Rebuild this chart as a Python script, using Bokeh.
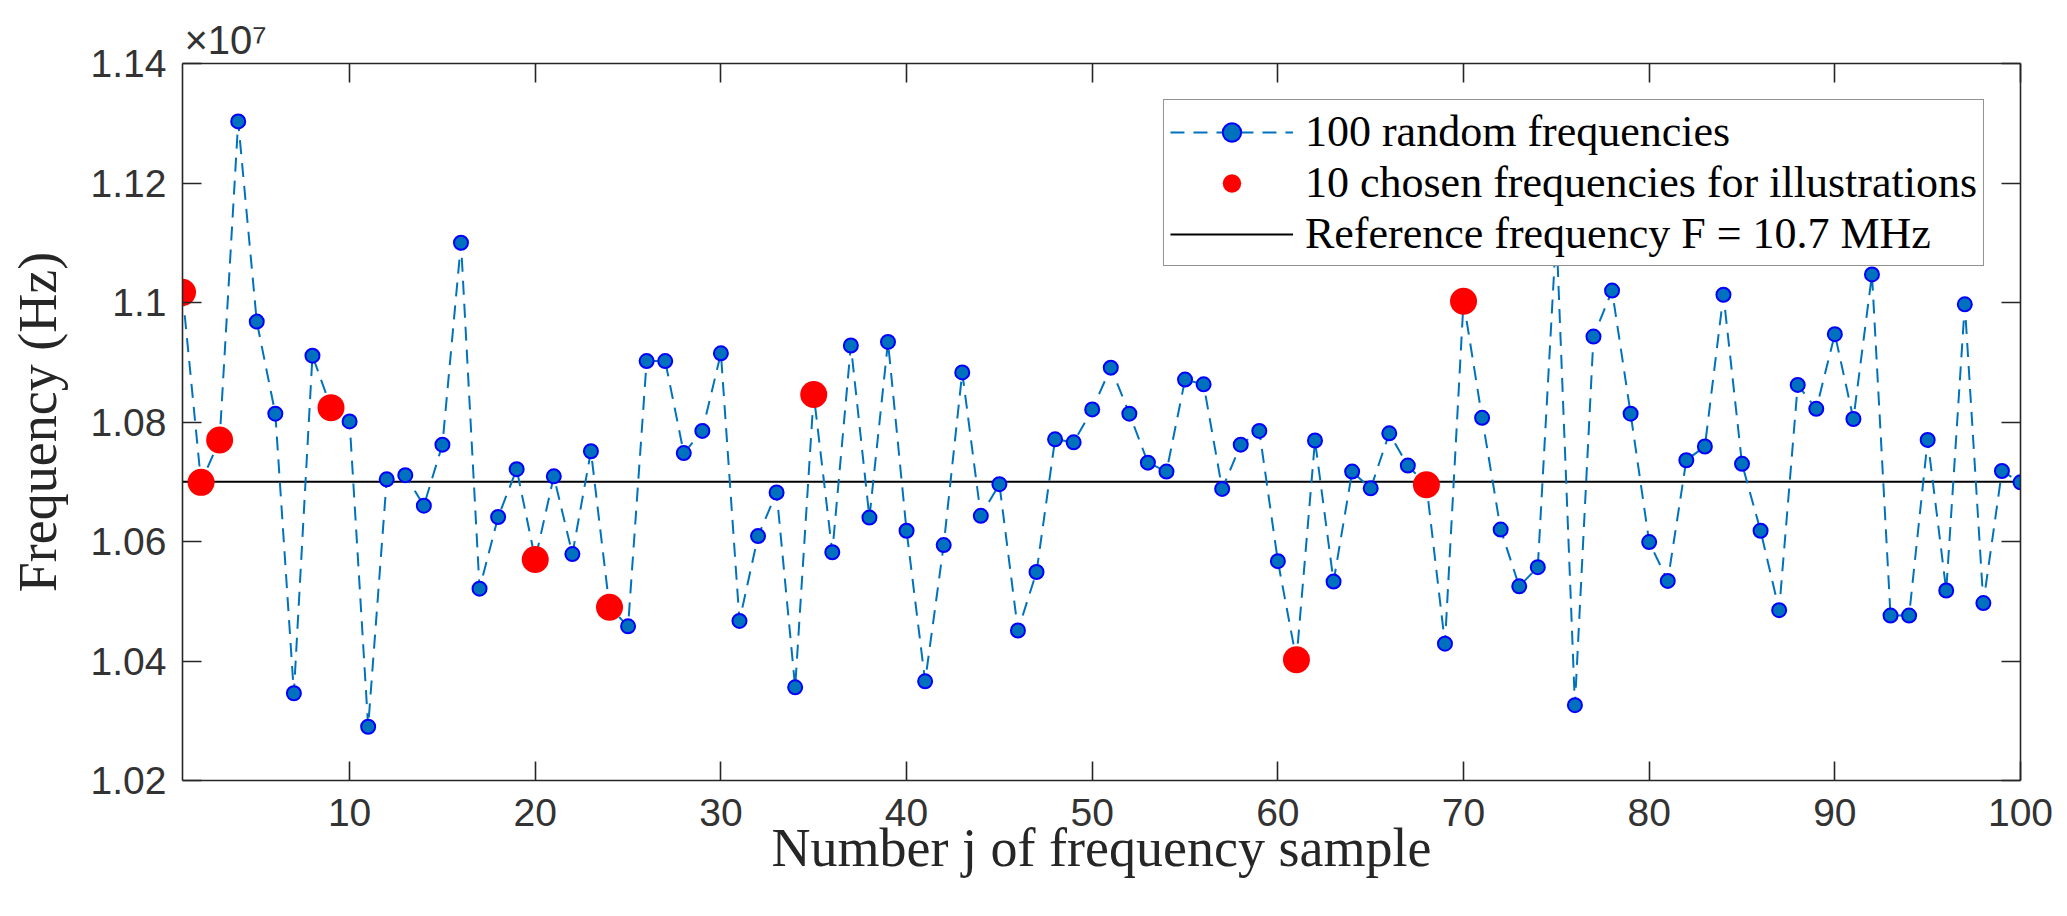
from bokeh.plotting import figure
from bokeh.models import (ColumnDataSource, LinearAxis, FixedTicker, Range1d,
                          Legend, LegendItem, Title)
from bokeh.embed import file_html
from bokeh.resources import INLINE

# ---- data (frequency in units of 1e7 Hz) ----
j = list(range(1, 101))
freq = [1.1017, 1.0699, 1.0770, 1.1303, 1.0968, 1.0814, 1.0346, 1.0911, 1.0824, 1.0801,
        1.0290, 1.0704, 1.0711, 1.0660, 1.0762, 1.1100, 1.0521, 1.0641, 1.0721, 1.0570,
        1.0709, 1.0579, 1.0751, 1.0490, 1.0458, 1.0902, 1.0902, 1.0748, 1.0785, 1.0915,
        1.0467, 1.0609, 1.0682, 1.0356, 1.0846, 1.0582, 1.0928, 1.0640, 1.0934, 1.0618,
        1.0366, 1.0594, 1.0883, 1.0643, 1.0696, 1.0451, 1.0549, 1.0771, 1.0766, 1.0821,
        1.0891, 1.0814, 1.0732, 1.0717, 1.0871, 1.0863, 1.0688, 1.0762, 1.0785, 1.0567,
        1.0402, 1.0769, 1.0533, 1.0717, 1.0689, 1.0781, 1.0727, 1.0695, 1.0429, 1.1002,
        1.0807, 1.0620, 1.0525, 1.0557, 1.1120, 1.0326, 1.0943, 1.1020, 1.0814, 1.0599,
        1.0534, 1.0736, 1.0759, 1.1013, 1.0730, 1.0618, 1.0485, 1.0862, 1.0822, 1.0947,
        1.0805, 1.1047, 1.0476, 1.0476, 1.0770, 1.0518, 1.0997, 1.0497, 1.0718, 1.0699]
chosen = [1, 2, 3, 9, 20, 24, 35, 61, 68, 70]
chosen_freq = [freq[k - 1] for k in chosen]
ref_freq = 1.07
ref_x = [1, 100]
x_ticks = [10, 20, 30, 40, 50, 60, 70, 80, 90, 100]
y_ticks = [1.02, 1.04, 1.06, 1.08, 1.1, 1.12, 1.14]
y_tick_labels = ["1.02", "1.04", "1.06", "1.08", "1.1", "1.12", "1.14"]

AX = "#262626"
TICKFONT = "Liberation Sans"
SERIF = "Liberation Serif"

p = figure(width=2067, height=916, output_backend="svg", toolbar_location=None,
           x_range=Range1d(1, 100), y_range=Range1d(1.02, 1.14),
           min_border_left=182, min_border_right=47, min_border_top=63, min_border_bottom=136,
           x_axis_label="Number j of frequency sample", y_axis_label="Frequency (Hz)")
p.grid.visible = False
p.outline_line_color = None
p.background_fill_color = "white"
p.border_fill_color = "white"

def style(ax, labels=True):
    ax.axis_line_color = AX
    ax.axis_line_width = 1.6
    ax.major_tick_line_color = AX
    ax.major_tick_line_width = 1.6
    ax.major_tick_in = 19
    ax.major_tick_out = 0
    ax.minor_tick_line_color = None
    ax.major_label_text_font = TICKFONT
    ax.major_label_text_color = "#333333"
    if labels:
        ax.major_label_text_font_size = "39px"
    else:
        ax.major_label_text_font_size = "0px"
        ax.major_label_text_color = None
        ax.major_label_standoff = 0
    ax.axis_label_text_font = SERIF
    ax.axis_label_text_font_size = "54px"
    ax.axis_label_text_font_style = "normal"
    ax.axis_label_text_color = AX

xb = p.xaxis[0]
yl = p.yaxis[0]
xb.ticker = FixedTicker(ticks=x_ticks)
yl.ticker = FixedTicker(ticks=y_ticks)
yl.major_label_overrides = {t: s for t, s in zip(y_ticks, y_tick_labels)}
style(xb)
style(yl)
xb.major_label_standoff = 18
xb.axis_label_standoff = -11
yl.major_label_standoff = 16
yl.axis_label_standoff = 20

xt = LinearAxis(ticker=FixedTicker(ticks=x_ticks))
style(xt, labels=False)
p.add_layout(xt, "above")
yr = LinearAxis(ticker=FixedTicker(ticks=y_ticks))
style(yr, labels=False)
p.add_layout(yr, "right")

p.title = Title(text="×10⁷", align="left", offset=2, standoff=4)
p.title.text_font = TICKFONT
p.title.text_font_size = "40px"
p.title.text_color = "#333333"
p.title.text_font_style = "normal"

src = ColumnDataSource(dict(j=j, f=freq))
csrc = ColumnDataSource(dict(j=chosen, f=chosen_freq))

r_ref = p.line(ref_x, [ref_freq, ref_freq], line_color="black", line_width=2)
r_dash = p.line("j", "f", source=src, line_color="#0072BD", line_width=2, line_dash="14 9")
r_pts = p.scatter("j", "f", source=src, size=14, fill_color="#0072BD",
                  line_color="#0000FF", line_width=2)
r_red = p.scatter("j", "f", source=csrc, size=27, fill_color="#FF0000", line_color=None)

legend = Legend(items=[
    LegendItem(label="100 random frequencies", renderers=[r_dash, r_pts]),
    LegendItem(label="10 chosen frequencies for illustrations", renderers=[r_red]),
    LegendItem(label="Reference frequency F = 10.7 MHz", renderers=[r_ref]),
], location="top_right")
legend.margin = 36
legend.padding = 6
legend.spacing = 0
legend.glyph_width = 123
legend.glyph_height = 46
legend.label_height = 46
legend.label_standoff = 12
legend.label_text_font = SERIF
legend.label_text_font_size = "44px"
legend.label_text_color = "black"
legend.border_line_color = AX
legend.border_line_width = 1.6
legend.background_fill_color = "white"
legend.background_fill_alpha = 1.0
p.add_layout(legend, "center")

open("out.html", "w").write(file_html(p, INLINE))
